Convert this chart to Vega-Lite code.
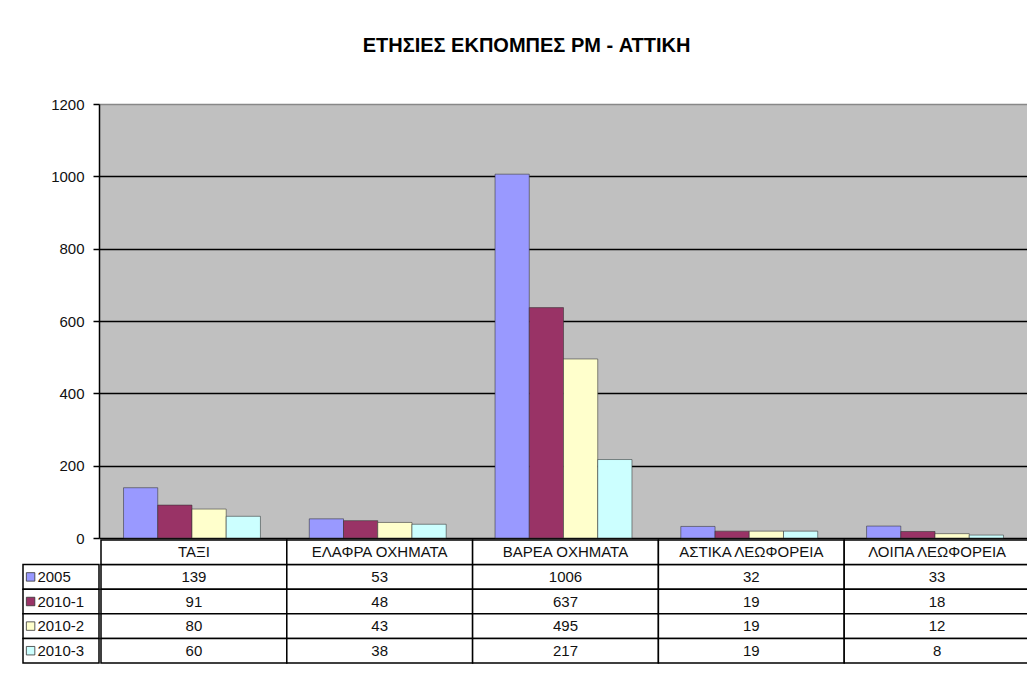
{
  "$schema": "https://vega.github.io/schema/vega-lite/v6.json",
  "padding": {"left": 22, "top": 36, "right": 0, "bottom": 0},
  "background": "white",
  "config": {"font": "Liberation Sans", "view": {"stroke": null}},
  "title": {"text": "ΕΤΗΣΙΕΣ ΕΚΠΟΜΠΕΣ PM - ΑΤΤΙΚΗ", "fontSize": 20, "fontWeight": "bold", "font": "Liberation Sans", "anchor": "middle", "frame": "bounds", "offset": 41, "color": "#000000"},
  "datasets": {
    "pm": [
      {"category": "ΤΑΞΙ", "series": "2005", "value": 139},
      {"category": "ΤΑΞΙ", "series": "2010-1", "value": 91},
      {"category": "ΤΑΞΙ", "series": "2010-2", "value": 80},
      {"category": "ΤΑΞΙ", "series": "2010-3", "value": 60},
      {"category": "ΕΛΑΦΡΑ ΟΧΗΜΑΤΑ", "series": "2005", "value": 53},
      {"category": "ΕΛΑΦΡΑ ΟΧΗΜΑΤΑ", "series": "2010-1", "value": 48},
      {"category": "ΕΛΑΦΡΑ ΟΧΗΜΑΤΑ", "series": "2010-2", "value": 43},
      {"category": "ΕΛΑΦΡΑ ΟΧΗΜΑΤΑ", "series": "2010-3", "value": 38},
      {"category": "ΒΑΡΕΑ ΟΧΗΜΑΤΑ", "series": "2005", "value": 1006},
      {"category": "ΒΑΡΕΑ ΟΧΗΜΑΤΑ", "series": "2010-1", "value": 637},
      {"category": "ΒΑΡΕΑ ΟΧΗΜΑΤΑ", "series": "2010-2", "value": 495},
      {"category": "ΒΑΡΕΑ ΟΧΗΜΑΤΑ", "series": "2010-3", "value": 217},
      {"category": "ΑΣΤΙΚΑ ΛΕΩΦΟΡΕΙΑ", "series": "2005", "value": 32},
      {"category": "ΑΣΤΙΚΑ ΛΕΩΦΟΡΕΙΑ", "series": "2010-1", "value": 19},
      {"category": "ΑΣΤΙΚΑ ΛΕΩΦΟΡΕΙΑ", "series": "2010-2", "value": 19},
      {"category": "ΑΣΤΙΚΑ ΛΕΩΦΟΡΕΙΑ", "series": "2010-3", "value": 19},
      {"category": "ΛΟΙΠΑ ΛΕΩΦΟΡΕΙΑ", "series": "2005", "value": 33},
      {"category": "ΛΟΙΠΑ ΛΕΩΦΟΡΕΙΑ", "series": "2010-1", "value": 18},
      {"category": "ΛΟΙΠΑ ΛΕΩΦΟΡΕΙΑ", "series": "2010-2", "value": 12},
      {"category": "ΛΟΙΠΑ ΛΕΩΦΟΡΕΙΑ", "series": "2010-3", "value": 8}
    ]
  },
  "data": {"name": "pm"},
  "columns": 1,
  "align": "none",
  "spacing": -7,
  "concat": [
    {
      "bounds": "flush",
      "spacing": 0,
      "hconcat": [
        {
          "width": 76,
          "height": 434,
          "transform": [{"filter": "false"}],
          "mark": {"type": "point", "opacity": 0},
          "encoding": {}
        },
        {
          "width": 929,
          "height": 434,
          "view": {"fill": "#C0C0C0", "stroke": null},
          "mark": {"type": "bar", "stroke": "#333333", "strokeWidth": 0.8, "strokeOpacity": 0.7},
          "encoding": {
            "x": {"field": "category", "type": "nominal", "sort": ["ΤΑΞΙ", "ΕΛΑΦΡΑ ΟΧΗΜΑΤΑ", "ΒΑΡΕΑ ΟΧΗΜΑΤΑ", "ΑΣΤΙΚΑ ΛΕΩΦΟΡΕΙΑ", "ΛΟΙΠΑ ΛΕΩΦΟΡΕΙΑ"], "scale": {"paddingInner": 0.263, "paddingOuter": 0.132}, "axis": null},
            "xOffset": {"field": "series", "type": "nominal", "sort": ["2005", "2010-1", "2010-2", "2010-3"], "scale": {"paddingInner": 0, "paddingOuter": 0}},
            "y": {"field": "value", "type": "quantitative", "scale": {"domain": [0, 1200], "nice": false},
              "axis": {"values": [0, 200, 400, 600, 800, 1000, 1200], "format": "d", "title": null, "grid": true,
                "gridColor": {"condition": {"test": "datum.value === 1200", "value": "#888888"}, "value": "#000000"},
                "gridWidth": 1.5, "domainColor": "#000000", "domainWidth": 1.5, "tickColor": "#000000", "tickSize": 6, "tickWidth": 1.5,
                "labelFontSize": 15, "labelColor": "#111111", "labelPadding": 9}},
            "color": {"field": "series", "type": "nominal", "scale": {"domain": ["2005", "2010-1", "2010-2", "2010-3"], "range": ["#9999FF", "#993366", "#FFFFCC", "#CCFFFF"]}, "legend": null}
          }
        }
      ]
    },
    {
      "spacing": 0,
      "hconcat": [
        {
          "width": 76,
          "height": 123,
          "transform": [{"filter": "datum.category === 'ΤΑΞΙ'"}],
          "encoding": {
            "y": {"field": "series", "type": "nominal", "scale": {"domain": ["hdr", "2005", "2010-1", "2010-2", "2010-3"], "paddingInner": 0, "paddingOuter": 0}, "axis": null}
          },
          "layer": [
            {
              "mark": {"type": "rect", "fill": "white", "stroke": "#000000", "strokeWidth": 1.5},
              "encoding": {"x": {"datum": 0, "type": "quantitative", "scale": {"domain": [0, 1], "nice": false}, "axis": null}, "x2": {"datum": 1}}
            },
            {
              "mark": {"type": "point", "shape": "square", "filled": true, "size": 72, "stroke": "#333333", "strokeWidth": 0.8, "opacity": 1},
              "encoding": {
                "x": {"datum": 0.1, "type": "quantitative"},
                "color": {"field": "series", "type": "nominal", "scale": {"domain": ["2005", "2010-1", "2010-2", "2010-3"], "range": ["#9999FF", "#993366", "#FFFFCC", "#CCFFFF"]}, "legend": null}
              }
            },
            {
              "mark": {"type": "text", "align": "left", "fontSize": 15, "color": "#111111"},
              "encoding": {"x": {"datum": 0.19, "type": "quantitative"}, "text": {"field": "series"}}
            }
          ]
        },
        {
          "width": 929,
          "height": 123,
          "encoding": {
            "x": {"field": "category", "type": "nominal", "sort": ["ΤΑΞΙ", "ΕΛΑΦΡΑ ΟΧΗΜΑΤΑ", "ΒΑΡΕΑ ΟΧΗΜΑΤΑ", "ΑΣΤΙΚΑ ΛΕΩΦΟΡΕΙΑ", "ΛΟΙΠΑ ΛΕΩΦΟΡΕΙΑ"], "scale": {"paddingInner": 0, "paddingOuter": 0}, "axis": null}
          },
          "layer": [
            {
              "mark": {"type": "rect", "fill": "white", "stroke": "#000000", "strokeWidth": 1.5},
              "encoding": {"y": {"field": "series", "type": "nominal", "scale": {"domain": ["hdr", "2005", "2010-1", "2010-2", "2010-3"], "paddingInner": 0, "paddingOuter": 0}, "axis": null}}
            },
            {
              "mark": {"type": "text", "fontSize": 15, "color": "#111111"},
              "encoding": {"y": {"field": "series", "type": "nominal"}, "text": {"field": "value", "type": "quantitative", "format": "d"}}
            },
            {
              "transform": [{"filter": "datum.series === '2005'"}],
              "mark": {"type": "rect", "fill": "white", "stroke": "#000000", "strokeWidth": 1.5},
              "encoding": {"y": {"datum": "hdr", "type": "nominal"}}
            },
            {
              "transform": [{"filter": "datum.series === '2005'"}],
              "mark": {"type": "text", "fontSize": 15, "color": "#111111"},
              "encoding": {"y": {"datum": "hdr", "type": "nominal"}, "text": {"field": "category", "type": "nominal"}}
            }
          ]
        }
      ]
    }
  ]
}
